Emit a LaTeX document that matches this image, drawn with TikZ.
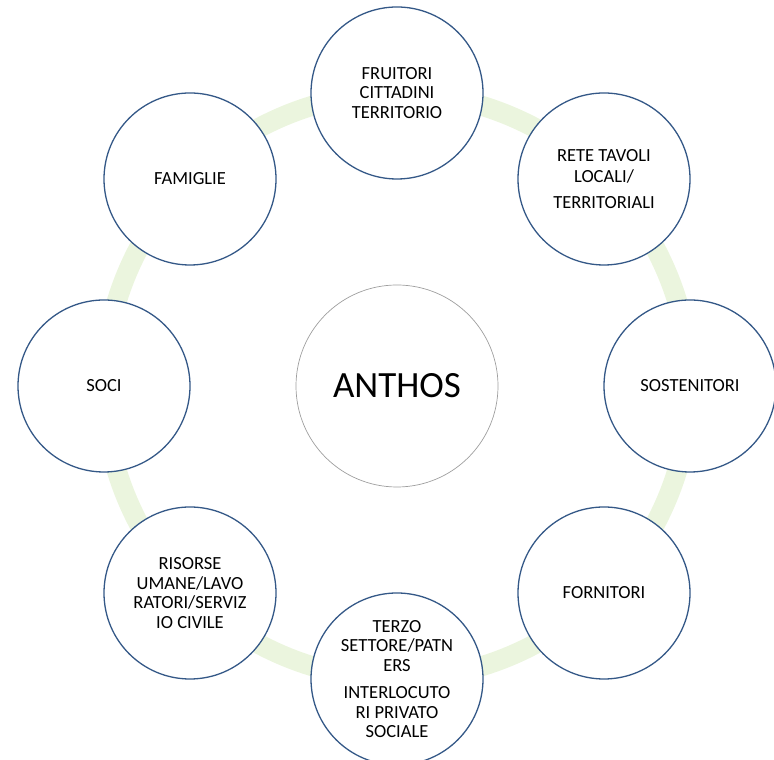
\documentclass[tikz,border=0pt]{standalone}
\usepackage{fontspec}
\setmainfont{Carlito}
\usetikzlibrary{backgrounds}
\definecolor{ringblue}{RGB}{52,88,135}
\definecolor{bandgreen}{RGB}{235,245,222}

\tikzset{
  actor/.style={circle, draw=ringblue, line width=1.3pt, fill=white,
    minimum size=172pt, inner sep=0pt, align=center,
    font=\fontsize{18.5}{19.5}\selectfont},
  core/.style={circle, draw=gray!75, line width=0.7pt, fill=white,
    minimum size=202pt, inner sep=0pt, font=\fontsize{37}{40}\selectfont},
  band/.style={draw=bandgreen, line width=20pt, looseness=0.88}
}

\begin{document}
\begin{tikzpicture}[x=1pt,y=1pt]
  \useasboundingbox (0,0) rectangle (774,760);
  \node[core] (anthos) at (397,374) {ANTHOS};
  \node[actor] (fruitori) at (397,667) {FRUITORI\\CITTADINI\\TERRITORIO};
  \node[actor] (rete) at (604,581) {RETE TAVOLI\\[2pt]LOCALI/\\[6pt]TERRITORIALI};
  \node[actor] (sostenitori) at (690,374) {SOSTENITORI};
  \node[actor] (fornitori) at (604,167) {FORNITORI};
  \node[actor] (terzo) at (397,81) {TERZO\\SETTORE/PATN\\ERS\\[8pt]INTERLOCUTO\\RI PRIVATO\\SOCIALE};
  \node[actor] (risorse) at (190,167) {RISORSE\\UMANE/LAVO\\RATORI/SERVIZ\\IO CIVILE};
  \node[actor] (soci) at (104,374) {SOCI};
  \node[actor] (famiglie) at (190,581) {FAMIGLIE};
  \begin{scope}[on background layer]
    \foreach \a/\b in {fruitori/famiglie, famiglie/soci, soci/risorse,
      risorse/terzo, terzo/fornitori, fornitori/sostenitori,
      sostenitori/rete, rete/fruitori}
      \draw[band] (\a.center) to[bend right=22.5] (\b.center);
  \end{scope}
\end{tikzpicture}
\end{document}
